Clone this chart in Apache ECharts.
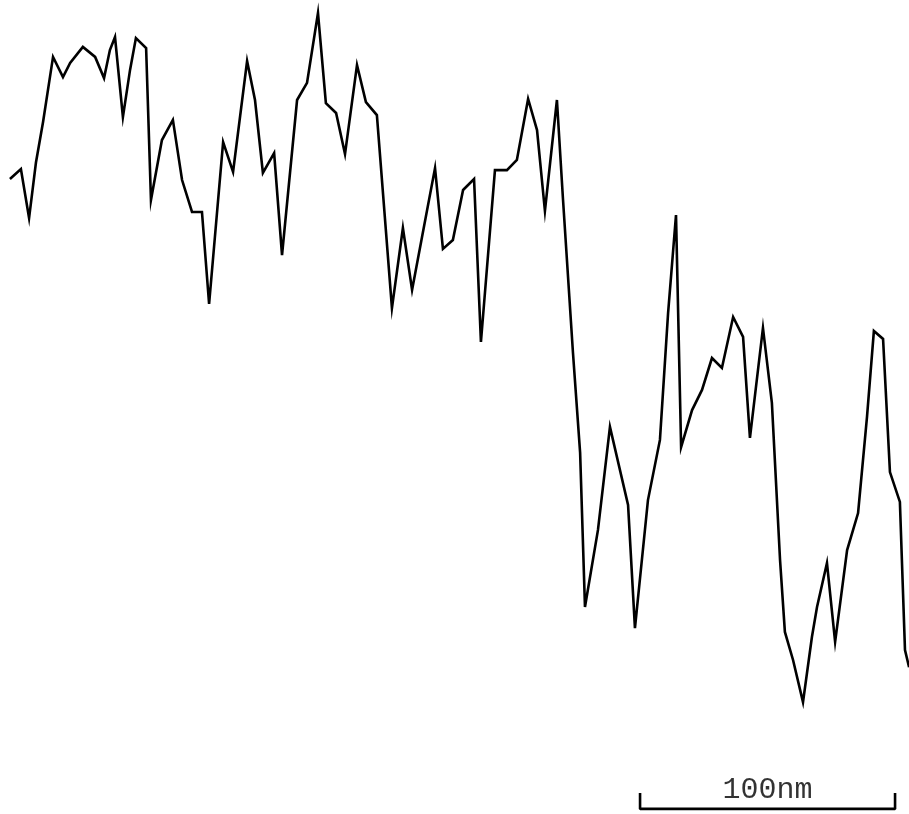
<!DOCTYPE html>
<html>
<head>
<meta charset="utf-8">
<title>Surface height profile</title>
<script src="https://cdn.jsdelivr.net/npm/echarts@6/dist/echarts.min.js"></script>
<style>
  html, body { margin: 0; padding: 0; background: #fff; }
  #chart { width: 909px; height: 814px; }
</style>
</head>
<body>
<div id="chart"></div>
<script>
// Lateral position along the scan (nm)
const positionNm = [
  3.9, 8.2, 11.4, 14.1, 16.9, 20.8, 24.7, 27.5, 32.5, 37.3,
  40.8, 43.1, 45.1, 48.2, 51.0, 53.3, 57.3, 59.2, 63.5, 67.8,
  71.4, 75.3, 79.2, 82.0, 87.5, 91.4, 96.9, 100.0, 103.1, 107.5,
  110.6, 116.5, 120.4, 124.7, 127.8, 131.8, 135.3, 140.0, 143.5, 147.8,
  153.7, 158.0, 161.6, 165.5, 170.6, 173.7, 177.6, 181.6, 185.9, 188.6,
  194.1, 198.8, 202.7, 207.1, 210.6, 213.7, 218.4, 220.8, 224.7, 227.5,
  229.4, 234.5, 239.2, 246.3, 249.0, 254.1, 258.8, 262.0, 265.1, 267.1,
  271.4, 275.3, 279.2, 283.1, 287.5, 291.4, 294.1, 299.2, 302.7, 305.9,
  307.8, 311.0, 314.9, 318.4, 320.4, 324.3, 327.5, 332.2, 336.5, 340.0,
  342.7, 346.3, 349.0, 352.9, 354.9, 356.5
];

// Surface height at each position (nm, same scale as the position axis)
const heightNm = [
  249.0, 252.9, 233.7, 255.5, 271.5, 296.9, 289.0, 294.5, 300.8, 296.9,
  288.6, 299.6, 304.7, 273.3, 291.8, 304.3, 300.4, 240.8, 264.3, 272.2,
  248.6, 236.1, 236.1, 200.0, 263.5, 251.8, 295.3, 280.0, 251.4, 259.2,
  219.2, 280.0, 286.7, 314.1, 278.8, 274.9, 258.8, 293.7, 279.2, 274.1,
  198.4, 229.8, 205.5, 226.3, 253.3, 221.6, 225.1, 244.7, 249.0, 185.1,
  252.5, 252.5, 256.5, 280.4, 268.2, 236.5, 280.0, 240.8, 180.8, 141.6,
  81.2, 111.4, 151.8, 121.2, 72.9, 123.1, 146.7, 196.5, 234.9, 143.9,
  158.4, 166.3, 178.8, 174.9, 194.9, 187.1, 147.5, 190.6, 161.2, 99.6,
  71.4, 60.4, 43.9, 69.4, 81.2, 98.4, 67.5, 103.5, 118.0, 155.7,
  189.4, 186.3, 134.1, 122.4, 64.3, 57.6
];

// Scale bar: start position, length and label
const scaleBarStartNm = 251;
const scaleBarLengthNm = 100;
const scaleBarLabel = '100nm';

const xMax = 909 / 2.55;
const yMax = 814 / 2.55;

const profile = positionNm.map((x, i) => [x, heightNm[i]]);

const barBase = 2.0;
const barTick = 8.2;
const scaleBar = [
  [scaleBarStartNm, barTick],
  [scaleBarStartNm, barBase],
  [scaleBarStartNm + scaleBarLengthNm, barBase],
  [scaleBarStartNm + scaleBarLengthNm, barTick]
];

const chart = echarts.init(document.getElementById('chart'), null, { renderer: 'canvas' });

chart.setOption({
  animation: false,
  backgroundColor: '#ffffff',
  grid: { left: 0, right: 0, top: 0, bottom: 0 },
  xAxis: { type: 'value', min: 0, max: xMax, show: false },
  yAxis: { type: 'value', min: 0, max: yMax, show: false },
  series: [
    {
      type: 'line',
      data: profile,
      symbol: 'none',
      clip: false,
      lineStyle: { color: '#000', width: 2.6, join: 'miter' }
    },
    {
      type: 'line',
      data: scaleBar,
      symbol: 'none',
      clip: false,
      lineStyle: { color: '#000', width: 2.6 }
    },
    {
      type: 'scatter',
      data: [[scaleBarStartNm + scaleBarLengthNm / 2, barBase]],
      symbolSize: 0,
      label: {
        show: true,
        position: 'top',
        distance: 4,
        formatter: scaleBarLabel,
        color: '#000',
        fontFamily: 'Liberation Mono',
        fontSize: 30
      }
    }
  ]
});
</script>
</body>
</html>
